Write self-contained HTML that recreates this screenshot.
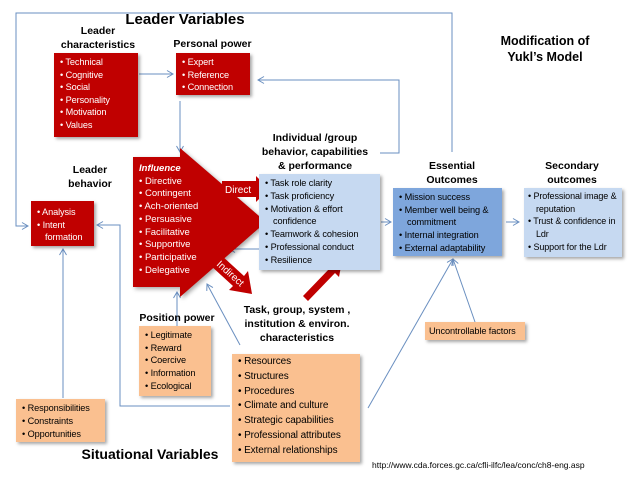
<!DOCTYPE html>
<html><head><meta charset="utf-8"><style>
body{margin:0;width:638px;height:479px;background:#fff;position:relative;overflow:hidden;font-family:"Liberation Sans",sans-serif;color:#000}
.a{position:absolute}
.t{position:absolute;font-weight:bold;text-align:center;font-size:10.5px;line-height:14px}
.box{position:absolute;box-shadow:2px 2px 3px rgba(0,0,0,.35);font-size:9.2px;line-height:12.5px;box-sizing:border-box;padding:3px 2px 0 6px;letter-spacing:-0.1px}
.r{background:#c00000;color:#fff}
.o{background:#fac090}
.lb{background:#c6d9f1}
.db{background:#7ea6dc}
.box div{padding-left:8px;text-indent:-8px}
</style></head><body>
<svg class="a" style="left:0;top:0" width="638" height="479">
<defs><marker id="m" markerWidth="8" markerHeight="8" refX="7" refY="4" orient="auto" markerUnits="userSpaceOnUse"><path d="M1,0.5 L7,4 L1,7.5" fill="none" stroke="#6a8fc0" stroke-width="1"/></marker></defs>
<g fill="none" stroke="#6a8fc0" stroke-width="1">
<polyline points="452,152 452,13 16,13 16,226 28,226" marker-end="url(#m)"/>
<line x1="139" y1="74" x2="173" y2="74" marker-end="url(#m)"/>
<polyline points="380,153 399,153 399,80 258,80" marker-end="url(#m)"/>
<line x1="180" y1="101" x2="180" y2="152" marker-end="url(#m)"/>
<polyline points="230,406 120,406 120,225 97,225" marker-end="url(#m)"/>
<line x1="63" y1="398" x2="63" y2="249" marker-end="url(#m)"/>
<line x1="177" y1="328" x2="177" y2="292" marker-end="url(#m)"/>
<line x1="240" y1="345" x2="207" y2="284" marker-end="url(#m)"/>
<line x1="259" y1="249" x2="229" y2="249" marker-end="url(#m)"/>
<line x1="381" y1="222" x2="391" y2="222" marker-end="url(#m)"/>
<line x1="506" y1="222" x2="519" y2="222" marker-end="url(#m)"/>
<line x1="475" y1="322" x2="453" y2="259" marker-end="url(#m)"/>
<line x1="368" y1="408" x2="453" y2="259" marker-end="url(#m)"/>
</g>
<g fill="#c00000">
<polygon points="133,157 180,157 180,148 266,222 180,297 180,287 133,287" style="filter:drop-shadow(2px 2px 2px rgba(0,0,0,.35))"/>
<polygon points="222,181 256,181 256,176 269,189 256,202 256,197 222,197"/>
<polygon points="221,255 244,276 248,271 252,294 229,290 233,286 210,265"/>
<polygon points="303,296 330,268 326,264 342,261 339,277 335,273 308,301"/>
</g>
<text x="225" y="193" fill="#fff" font-size="10" font-family="Liberation Sans">Direct</text>
<text x="0" y="0" fill="#fff" font-size="10" font-family="Liberation Sans" transform="translate(216,265) rotate(42)">Indirect</text>
</svg>
<div class="t" style="left:110px;top:13px;width:150px;font-size:15px">Leader Variables</div>
<div class="t" style="left:50px;top:24px;width:96px">Leader<br>characteristics</div>
<div class="box r" style="left:54px;top:53px;width:84px;height:84px"><div>• Technical</div><div>• Cognitive</div><div>• Social</div><div>• Personality</div><div>• Motivation</div><div>• Values</div></div>
<div class="t" style="left:165px;top:37px;width:95px">Personal power</div>
<div class="box r" style="left:176px;top:53px;width:74px;height:42px"><div>• Expert</div><div>• Reference</div><div>• Connection</div></div>
<div class="t" style="left:60px;top:163px;width:60px">Leader<br>behavior</div>
<div class="box r" style="left:31px;top:201px;width:63px;height:45px;padding-top:5px"><div>• Analysis</div><div>• Intent formation</div></div>
<div class="a" style="left:139px;top:163px;font-size:9.5px;line-height:12.7px;color:#fff"><i style="font-weight:bold">Influence</i><br>• Directive<br>• Contingent<br>• Ach-oriented<br>• Persuasive<br>• Facilitative<br>• Supportive<br>• Participative<br>• Delegative</div>
<div class="t" style="left:250px;top:131px;width:130px">Individual /group<br>behavior, capabilities<br>&amp; performance</div>
<div class="box lb" style="left:259px;top:174px;width:121px;height:96px;padding-top:3px;line-height:12.8px"><div>• Task role clarity</div><div>• Task proficiency</div><div>• Motivation &amp; effort confidence</div><div>• Teamwork &amp; cohesion</div><div>• Professional conduct</div><div>• Resilience</div></div>
<div class="t" style="left:402px;top:159px;width:100px">Essential<br>Outcomes</div>
<div class="box db" style="left:393px;top:188px;width:109px;height:68px;line-height:12.7px"><div>• Mission success</div><div>• Member well being &amp; commitment</div><div>• Internal integration</div><div>• External adaptability</div></div>
<div class="t" style="left:522px;top:159px;width:100px">Secondary<br>outcomes</div>
<div class="box lb" style="left:524px;top:188px;width:98px;height:69px;line-height:12.7px;padding:2px 1px 0 4px;font-size:9px"><div>• Professional image &amp; reputation</div><div>• Trust &amp; confidence in Ldr</div><div>• Support for the Ldr</div></div>
<div class="t" style="left:475px;top:33px;width:140px;font-size:12.5px;line-height:16px">Modification of<br>Yukl’s Model</div>
<div class="box o" style="left:425px;top:322px;width:100px;height:18px;padding:3px 0 0 4px;font-size:9.2px">Uncontrollable factors</div>
<div class="t" style="left:130px;top:311px;width:94px">Position power</div>
<div class="box o" style="left:139px;top:326px;width:72px;height:70px;line-height:12.7px;padding-top:3px"><div>• Legitimate</div><div>• Reward</div><div>• Coercive</div><div>• Information</div><div>• Ecological</div></div>
<div class="t" style="left:232px;top:303px;width:130px">Task, group, system ,<br>institution &amp; environ.<br>characteristics</div>
<div class="box o" style="left:232px;top:354px;width:128px;height:108px;font-size:10px;line-height:14.8px;padding-top:1px"><div>• Resources</div><div>• Structures</div><div>• Procedures</div><div>• Climate and culture</div><div>• Strategic capabilities</div><div>• Professional attributes</div><div>• External relationships</div></div>
<div class="box o" style="left:16px;top:399px;width:89px;height:43px;line-height:12.8px;padding-top:3px"><div>• Responsibilities</div><div>• Constraints</div><div>• Opportunities</div></div>
<div class="t" style="left:70px;top:445px;width:160px;font-size:14px;line-height:18px">Situational Variables</div>
<div class="a" style="left:372px;top:460px;font-size:8.5px">http://www.cda.forces.gc.ca/cfli-ilfc/lea/conc/ch8-eng.asp</div>
</body></html>
